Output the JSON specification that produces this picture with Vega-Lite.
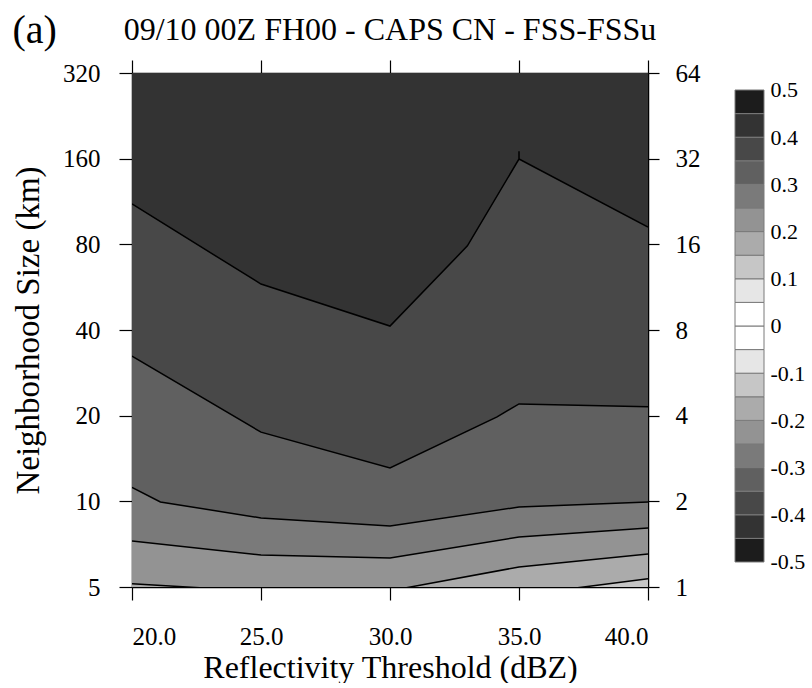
{
  "$schema": "https://vega.github.io/schema/vega-lite/v6.json",
  "background": "white",
  "padding": {"left": 12, "top": 11, "right": 5, "bottom": 0},
  "config": {
    "font": "Liberation Serif",
    "view": {"stroke": null},
    "axis": {
      "labelFont": "Liberation Serif", "titleFont": "Liberation Serif",
      "labelColor": "black", "titleColor": "black", "domainColor": "black", "tickColor": "black",
      "grid": false, "titleFontWeight": "normal", "labelFontSize": 25, "titleFontSize": 33,
      "tickSize": 13, "domainWidth": 1.5, "tickWidth": 1.2
    },
    "title": {"font": "Liberation Serif", "fontWeight": "normal", "color": "black"}
  },
  "title": {"text": "(a)", "anchor": "start", "frame": "bounds", "fontSize": 40, "offset": -37, "font": "Liberation Serif"},
  "datasets": {
    "contours": [
      {"line": "L0", "lo": 0.4, "x": 20, "y": 320, "i": 0},
      {"line": "L0", "lo": 0.4, "x": 40, "y": 320, "i": 1},
      {"line": "L1", "lo": 0.35, "x": 20, "y": 110.9, "i": 0},
      {"line": "L1", "lo": 0.35, "x": 25, "y": 58.0, "i": 1},
      {"line": "L1", "lo": 0.35, "x": 30, "y": 41.3, "i": 2},
      {"line": "L1", "lo": 0.35, "x": 33.0, "y": 79.0, "i": 3},
      {"line": "L1", "lo": 0.35, "x": 35, "y": 159.6, "i": 4},
      {"line": "L1", "lo": 0.35, "x": 35, "y": 170, "i": 5},
      {"line": "L1", "lo": 0.35, "x": 35, "y": 159.6, "i": 6},
      {"line": "L1", "lo": 0.35, "x": 40, "y": 92.0, "i": 7},
      {"line": "L2", "lo": 0.3, "x": 20, "y": 32.4, "i": 0},
      {"line": "L2", "lo": 0.3, "x": 25, "y": 17.5, "i": 1},
      {"line": "L2", "lo": 0.3, "x": 30, "y": 13.1, "i": 2},
      {"line": "L2", "lo": 0.3, "x": 34.15, "y": 19.8, "i": 3},
      {"line": "L2", "lo": 0.3, "x": 35, "y": 22.0, "i": 4},
      {"line": "L2", "lo": 0.3, "x": 40, "y": 21.5, "i": 5},
      {"line": "L3", "lo": 0.25, "x": 20, "y": 11.2, "i": 0},
      {"line": "L3", "lo": 0.25, "x": 21.1, "y": 9.95, "i": 1},
      {"line": "L3", "lo": 0.25, "x": 25, "y": 8.74, "i": 2},
      {"line": "L3", "lo": 0.25, "x": 30, "y": 8.19, "i": 3},
      {"line": "L3", "lo": 0.25, "x": 35, "y": 9.55, "i": 4},
      {"line": "L3", "lo": 0.25, "x": 40, "y": 9.95, "i": 5},
      {"line": "L4", "lo": 0.2, "x": 20, "y": 7.26, "i": 0},
      {"line": "L4", "lo": 0.2, "x": 25, "y": 6.48, "i": 1},
      {"line": "L4", "lo": 0.2, "x": 30, "y": 6.32, "i": 2},
      {"line": "L4", "lo": 0.2, "x": 35, "y": 7.49, "i": 3},
      {"line": "L4", "lo": 0.2, "x": 40, "y": 8.06, "i": 4},
      {"line": "L5", "lo": 0.15, "x": 20, "y": 5.13, "i": 0},
      {"line": "L5", "lo": 0.15, "x": 25, "y": 4.83, "i": 1},
      {"line": "L5", "lo": 0.15, "x": 30, "y": 4.85, "i": 2},
      {"line": "L5", "lo": 0.15, "x": 35, "y": 5.88, "i": 3},
      {"line": "L5", "lo": 0.15, "x": 40, "y": 6.53, "i": 4},
      {"line": "L6", "lo": 0.1, "x": 35, "y": 4.68, "i": 0},
      {"line": "L6", "lo": 0.1, "x": 37.5, "y": 5.0, "i": 1},
      {"line": "L6", "lo": 0.1, "x": 40, "y": 5.34, "i": 2}
    ],
    "colorbar": [
      {"lo": -0.5, "hi": -0.45}, {"lo": -0.45, "hi": -0.4}, {"lo": -0.4, "hi": -0.35},
      {"lo": -0.35, "hi": -0.3}, {"lo": -0.3, "hi": -0.25}, {"lo": -0.25, "hi": -0.2},
      {"lo": -0.2, "hi": -0.15}, {"lo": -0.15, "hi": -0.1}, {"lo": -0.1, "hi": -0.05},
      {"lo": -0.05, "hi": 0}, {"lo": 0, "hi": 0.05}, {"lo": 0.05, "hi": 0.1},
      {"lo": 0.1, "hi": 0.15}, {"lo": 0.15, "hi": 0.2}, {"lo": 0.2, "hi": 0.25},
      {"lo": 0.25, "hi": 0.3}, {"lo": 0.3, "hi": 0.35}, {"lo": 0.35, "hi": 0.4},
      {"lo": 0.4, "hi": 0.45}, {"lo": 0.45, "hi": 0.5}
    ]
  },
  "spacing": 34,
  "hconcat": [
    {
      "width": 516,
      "height": 514,
      "title": {"text": "09/10 00Z FH00 - CAPS CN - FSS-FSSu", "fontSize": 32, "anchor": "middle", "offset": 12, "font": "Liberation Serif"},
      "layer": [
        {
          "data": {"name": "contours"},
          "encoding": {
            "x": {"field": "x", "type": "quantitative",
                  "scale": {"domain": [20, 40], "nice": false, "zero": false},
                  "axis": {"orient": "bottom", "values": [20, 25, 30, 35, 40], "format": ".1f",
                           "labelFont": "Liberation Serif", "titleFont": "Liberation Serif",
                           "title": "Reflectivity Threshold (dBZ)", "titleFontSize": 32, "labelPadding": 24, "titlePadding": 3}},
            "y": {"field": "y", "type": "quantitative",
                  "scale": {"type": "log", "domain": [5, 320], "nice": false},
                  "axis": {"orient": "left", "values": [5, 10, 20, 40, 80, 160, 320], "format": "d",
                           "labelFont": "Liberation Serif", "titleFont": "Liberation Serif",
                           "title": "Neighborhood Size (km)", "labelPadding": 19, "titlePadding": 17}},
            "y2": {"datum": 5},
            "color": {"field": "lo", "type": "ordinal", "legend": null,
                      "scale": {
                        "domain": [-0.5, -0.45, -0.4, -0.35, -0.3, -0.25, -0.2, -0.15, -0.1, -0.05, 0, 0.05, 0.1, 0.15, 0.2, 0.25, 0.3, 0.35, 0.4, 0.45],
                        "range": ["#1c1c1c", "#333333", "#484848", "#606060", "#7a7a7a", "#939393", "#ababab", "#c6c6c6", "#e6e6e6", "#ffffff", "#ffffff", "#e6e6e6", "#c6c6c6", "#ababab", "#939393", "#7a7a7a", "#606060", "#484848", "#333333", "#1c1c1c"]}}
          },
          "layer": [
            {"transform": [{"filter": "datum.line == 'L0'"}], "mark": {"type": "area", "clip": true}},
            {"transform": [{"filter": "datum.line == 'L1'"}], "mark": {"type": "area", "clip": true}},
            {"transform": [{"filter": "datum.line == 'L2'"}], "mark": {"type": "area", "clip": true}},
            {"transform": [{"filter": "datum.line == 'L3'"}], "mark": {"type": "area", "clip": true}},
            {"transform": [{"filter": "datum.line == 'L4'"}], "mark": {"type": "area", "clip": true}},
            {"transform": [{"filter": "datum.line == 'L5'"}], "mark": {"type": "area", "clip": true}},
            {"transform": [{"filter": "datum.line == 'L6'"}], "mark": {"type": "area", "clip": true}}
          ]
        },
        {
          "data": {"name": "contours"},
          "transform": [{"filter": "datum.line != 'L0'"}],
          "mark": {"type": "line", "color": "black", "strokeWidth": 1.5, "clip": true},
          "encoding": {
            "x": {"field": "x", "type": "quantitative",
                  "scale": {"domain": [20, 40], "nice": false, "zero": false},
                  "axis": {"orient": "top", "values": [20, 25, 30, 35, 40], "labels": false, "title": null}},
            "y": {"field": "y", "type": "quantitative",
                  "scale": {"type": "log", "domain": [5, 320], "nice": false},
                  "axis": {"orient": "right", "values": [5, 10, 20, 40, 80, 160, 320],
                           "labelFont": "Liberation Serif",
                           "labelExpr": "datum.value / 5", "title": null, "labelPadding": 16, "tickSize": 11}},
            "detail": {"field": "line"},
            "order": {"field": "i"}
          }
        }
      ],
      "resolve": {"scale": {"x": "independent", "y": "independent"}}
    },
    {
      "width": 29,
      "height": 514,
      "data": {"name": "colorbar"},
      "mark": {"type": "rect", "stroke": "#7a7a7a", "strokeWidth": 1},
      "encoding": {
        "y": {"field": "lo", "type": "quantitative",
              "scale": {"domain": [-0.553, 0.536], "nice": false, "zero": false},
              "axis": {"orient": "right", "values": [-0.5, -0.4, -0.3, -0.2, -0.1, 0, 0.1, 0.2, 0.3, 0.4, 0.5],
                       "labelFont": "Liberation Serif",
                       "labelExpr": "toString(datum.value)", "domain": false, "ticks": false, "title": null,
                       "labelFontSize": 22, "labelPadding": 6}},
        "y2": {"field": "hi"},
        "color": {"field": "lo", "type": "ordinal", "legend": null,
                  "scale": {
                    "domain": [-0.5, -0.45, -0.4, -0.35, -0.3, -0.25, -0.2, -0.15, -0.1, -0.05, 0, 0.05, 0.1, 0.15, 0.2, 0.25, 0.3, 0.35, 0.4, 0.45],
                    "range": ["#1c1c1c", "#333333", "#484848", "#606060", "#7a7a7a", "#939393", "#ababab", "#c6c6c6", "#e6e6e6", "#ffffff", "#ffffff", "#e6e6e6", "#c6c6c6", "#ababab", "#939393", "#7a7a7a", "#606060", "#484848", "#333333", "#1c1c1c"]}}
      }
    }
  ]
}
